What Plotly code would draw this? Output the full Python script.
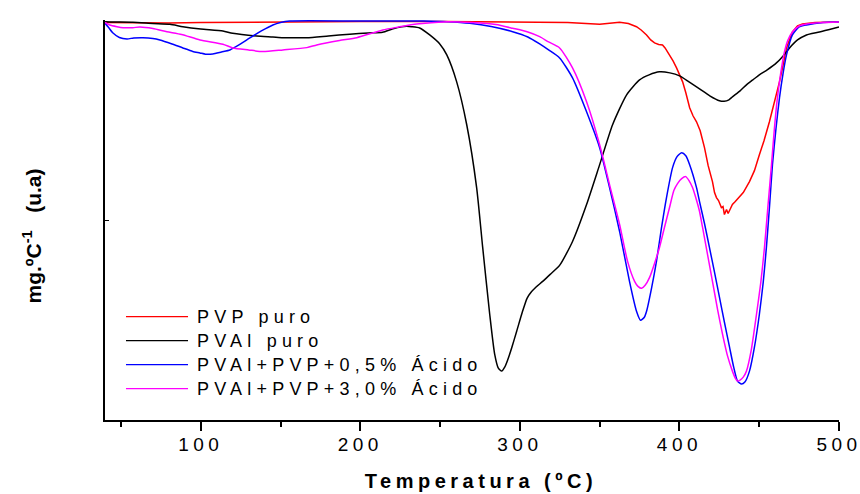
import plotly.graph_objects as go

# ---------------- data ----------------
pvp_T = [40, 60, 80, 100, 150, 200, 250, 300, 312.4, 330, 350, 356, 362.5, 368, 373.1, 376, 379.4, 382,
         384.4, 387, 389.4, 391, 393.8, 396, 398.2, 400.1, 402, 404, 406.4, 408.5, 410.7, 413, 415.7, 418,
         420.7, 422, 423.2, 424.5, 426.3, 427.3, 428.2, 429.5, 430.5, 431.4, 433.2, 435, 437.6, 440, 443.9,
         447, 450.1, 453, 456.4, 459.5, 462.7, 465, 467.1, 470.8, 474, 477.1, 485, 500]
pvp_v = [-1.5, -2, -2, -1.5, -0.7, -0.5, -0.5, -0.8, -0.7, -1.5, -3.3, -2.5, -1.3, -2.5, -5.7, -9, -14, -19,
         -22, -23.5, -24, -27, -34, -40, -47, -54, -61, -72, -87, -95, -101, -110, -127, -145,
         -161, -172, -177, -180, -187, -186, -194, -189, -193, -190, -184, -181, -176, -172, -161,
         -150, -134, -120, -101, -82, -61, -44, -27, -11, -5, -3, -1.5, -1]

pval_T = [40, 45, 57.5, 70, 80.7, 88.8, 100, 113.9, 120, 135, 145.2, 151.5, 160, 166.5, 180, 193.4, 205, 214,
          220, 226, 229.1, 232, 237.2, 243.5, 249.8, 254.2, 260.4, 266.7, 272.9, 276.7, 281.1, 284.2, 286.5,
          288.6, 290.5, 292.3, 295, 298, 301.5, 304.5, 307, 310, 314.3, 319, 324.9, 333, 341.8, 350, 358.1,
          366.9, 375, 381, 387.5, 394, 400.1, 406, 412.6, 419, 425.1, 428, 431, 433.2, 438, 442, 446, 450.1,
          455, 460.8, 465, 469, 474, 479.6, 483, 487.7, 494, 500]
pval_v = [-0.7, -1, -1.3, -2.5, -3.3, -5.7, -8, -10, -12.3, -15, -16, -16.7, -16.7, -16.7, -15, -13.3, -12, -11.3,
          -8, -5.7, -5.3, -5.7, -7, -14, -23, -34, -61, -104, -167, -227, -294, -334, -348,
          -351, -347, -340, -327, -311, -292, -278, -272, -267, -261, -254, -245, -221, -184, -144, -104,
          -74, -59, -54, -51, -52, -55, -61, -68, -75, -80, -80.5, -79, -76, -70, -64, -59, -54,
          -49, -42, -35, -27, -19, -14, -12.5, -11, -8.5, -6]

a05_T = [40, 42, 45, 49, 53.8, 58, 63.8, 70, 74.4, 82, 88.8, 95, 99.5, 103, 107.6, 113, 118.3, 125, 130.8, 138,
         145.2, 150, 155.8, 200, 240, 255, 268.6, 282, 295.5, 305, 312.4, 318, 324.9, 333, 341.8, 350, 356.2,
         362.5, 368.7, 373.1, 375.6, 378, 379.4, 382.5, 385.6, 388.7, 391.9, 395.7, 398.5, 401.4, 404, 406.4,
         410.7, 412.6, 415.7, 418.8, 422, 425.1, 428.2, 431.4, 434, 436.4, 438.9, 441, 443.9, 447, 450.1,
         452.5, 454.5, 456.5, 458.3, 460.5, 462.7, 465, 467.1, 470.8, 475, 479.6, 490, 500]
a05_v = [-2.3, -6, -12, -16.5, -18, -17, -16.7, -17.5, -19, -23, -27, -30.5, -32, -33.3, -33, -31, -29, -23, -17, -10,
         -4, -1.5, 0, 0, 0, -0.7, -2.3, -5.5, -10.7, -16, -23, -29, -37, -57, -91, -127, -167,
         -211, -261, -291, -300, -297, -291, -268, -241, -208, -177, -147, -136, -132, -135, -144,
         -167, -181, -203, -227, -252, -277, -302, -327, -347, -361, -364, -362, -351, -327, -294,
         -262, -227, -185, -144, -108, -77, -52, -34, -14, -6, -4, -1.5, -1]

a30_T = [40, 43, 47.5, 51.3, 57.5, 61.9, 70, 78.8, 88, 99.5, 113.9, 120.1, 130, 138.9, 151.5, 166.5, 172.7, 187,
         197.8, 214.1, 224, 232.9, 239, 254.2, 270, 285, 295.5, 305, 312.4, 318, 324.9, 333, 341.8, 350, 356.2,
         362.5, 367.5, 371.9, 374, 376.3, 378.5, 381.3, 384.4, 387.5, 390.6, 393.8, 396.5, 398.8, 401.4, 403.9,
         406, 408.2, 410.4, 412.6, 414.5, 417.6, 420.7, 424, 427, 430, 433.2, 435, 436.4, 438, 440, 442, 445,
         448.3, 451, 453.3, 455.5, 457.7, 459.5, 461.4, 463.5, 465.8, 468, 470.8, 475, 479.6, 490, 500]
a30_v = [-1.3, -4, -5.7, -6.7, -6.7, -6, -7.5, -10.7, -13.5, -19, -23.3, -27, -29, -30.7, -29, -26.7, -24, -19.5,
         -16.7, -9, -6, -3.5, -2.5, -0.7, -1.5, -3.5, -7.3, -11, -15.7, -21, -27, -47, -81, -124, -164,
         -204, -241, -261, -266, -268, -265, -257, -243, -227, -207, -187, -170, -163, -158, -156,
         -160, -167, -178, -191, -207, -234, -261, -290, -314, -335, -351, -358, -361, -360, -357, -351, -330,
         -294, -262, -227, -185, -144, -108, -77, -52, -31, -19, -11, -5, -3, -1.5, -1]

series_names = ["PVP puro", "PVAl puro", "PVAl+PVP+0,5% Ácido", "PVAl+PVP+3,0% Ácido"]
series_x = [pvp_T, pval_T, a05_T, a30_T]
series_y = [pvp_v, pval_v, a05_v, a30_v]
series_colors = ["#FF0000", "#000000", "#0000FF", "#FF00FF"]
series_shapes = ["linear", "spline", "spline", "spline"]

x_ticks = [100, 200, 300, 400, 500]
x_title = "Temperatura (ºC)"
y_title = "<b>mg.ºC<sup>-1</sup>\u00a0\u00a0\u00a0(u.a)</b>"

FONT = "Arial, 'Liberation Sans', Helvetica, sans-serif"

fig = go.Figure()
for name, xs, ys, col, shp in zip(series_names, series_x, series_y, series_colors, series_shapes):
    line = dict(color=col, width=1.5, shape=shp)
    if shp == "spline":
        line["smoothing"] = 0.6
    fig.add_trace(go.Scatter(x=xs, y=ys, mode="lines", name=name, line=line, showlegend=False))

# manual legend (long sample lines like the original)
leg_y = [0.2585, 0.1985, 0.1385, 0.0785]
for name, col, yy in zip(series_names, series_colors, leg_y):
    fig.add_shape(type="line", xref="paper", yref="paper", x0=0.0286, x1=0.1131, y0=yy, y1=yy,
                  line=dict(color=col, width=1.2))
    fig.add_annotation(text=name, xref="paper", yref="paper", x=0.1225, y=yy, xanchor="left",
                       yanchor="middle", showarrow=False, font=dict(family=FONT, size=18, color="black"))

fig.update_layout(
    width=860, height=494,
    margin=dict(l=105, r=21, t=20, b=74, autoexpand=False),
    paper_bgcolor="white", plot_bgcolor="white",
    font=dict(family=FONT, color="black"),
)
fig.update_xaxes(
    range=[40, 500], showgrid=False, zeroline=False,
    showline=True, linecolor="black", linewidth=2,
    tickmode="array", tickvals=x_ticks, ticktext=[str(v) for v in x_ticks],
    ticks="outside", ticklen=9, tickwidth=1.5, tickcolor="black",
    minor=dict(ticks="outside", ticklen=5, tickwidth=1.5, tickcolor="black", tickmode="linear", tick0=0, dtick=50),
    tickfont=dict(family=FONT, size=19, color="black"),
    ticklabelstandoff=-3,
    title=dict(text="<b>" + x_title + "</b>", font=dict(family=FONT, size=20, color="black"), standoff=20),
)
fig.update_yaxes(
    range=[-400, 1], showgrid=False, zeroline=False,
    showline=True, linecolor="black", linewidth=2,
    tickmode="array", tickvals=[-200], showticklabels=False,
    ticks="inside", ticklen=4, tickwidth=1.2, tickcolor="black",
    title=dict(text=y_title, font=dict(family=FONT, size=21, color="black"), standoff=52),
)

post = """
var gd = document.getElementById('{plot_id}');
gd.querySelectorAll('.xtick text').forEach(function(t){ t.style.letterSpacing = '4.5px'; });
gd.querySelectorAll('.g-xtitle text').forEach(function(t){
  t.style.letterSpacing = '4.5px';
  var x = parseFloat(t.getAttribute('x'));
  t.setAttribute('x', x + 9);
});
gd.querySelectorAll('.g-ytitle text').forEach(function(t){
  var tr = t.getAttribute('transform') || '';
  t.setAttribute('transform', 'translate(-4,16) ' + tr);
});
gd.querySelectorAll('.annotation-text').forEach(function(t){
  var bb = t.getBBox();
  t.setAttribute('text-anchor', 'start');
  t.setAttribute('x', bb.x);
  t.style.letterSpacing = '5.2px';
});
"""
fig.write_html("out.html", post_script=post)
